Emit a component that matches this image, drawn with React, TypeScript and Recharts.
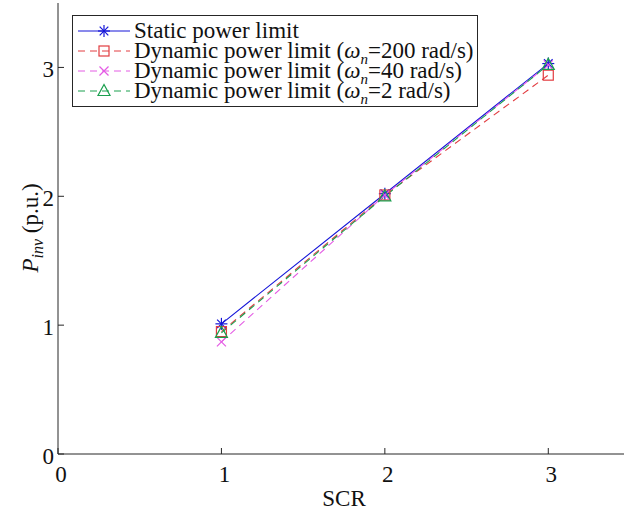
import React from 'react'
import { LineChart, Line, XAxis, YAxis, Legend, Label } from 'recharts'

const scr = [1, 2, 3]
const staticLimit = [1.01, 2.02, 3.03]
const dyn200 = [0.95, 2.01, 2.94]
const dyn40 = [0.87, 2.01, 3.02]
const dyn2 = [0.94, 2.0, 3.02]

const xTicks = [0, 1, 2, 3]
const yTicks = [0, 1, 2, 3]
const topTicks = [1, 2, 3]

const data = scr.map((s, i) => ({
  scr: s,
  staticLimit: staticLimit[i],
  dyn200: dyn200[i],
  dyn40: dyn40[i],
  dyn2: dyn2[i],
}))

const FONT = 'Liberation Serif, Times New Roman, Tinos, DejaVu Serif, serif'
const AXIS = '#262626'
const TEXT = '#111'
const FS = 23

type MarkerKind = 'star' | 'square' | 'x' | 'triangle'

const series: { key: string; name: string; omega?: string; color: string; dash?: string; marker: MarkerKind }[] = [
  { key: 'staticLimit', name: 'Static power limit', color: '#1515d8', marker: 'star' },
  { key: 'dyn200', name: 'Dynamic power limit', omega: '200', color: '#e23c40', dash: '7 5', marker: 'square' },
  { key: 'dyn40', name: 'Dynamic power limit', omega: '40', color: '#e45ce4', dash: '7 5', marker: 'x' },
  { key: 'dyn2', name: 'Dynamic power limit', omega: '2', color: '#1a9f4e', dash: '7 5', marker: 'triangle' },
]

function Marker({ kind, cx, cy, color }: { kind: MarkerKind; cx: number; cy: number; color: string }) {
  if (kind === 'star') {
    const r = 6
    const d = 4.3
    return (
      <g stroke={color} strokeWidth={1.2}>
        <line x1={cx - r} y1={cy} x2={cx + r} y2={cy} />
        <line x1={cx} y1={cy - r} x2={cx} y2={cy + r} />
        <line x1={cx - d} y1={cy - d} x2={cx + d} y2={cy + d} />
        <line x1={cx - d} y1={cy + d} x2={cx + d} y2={cy - d} />
      </g>
    )
  }
  if (kind === 'square') {
    return <rect x={cx - 5} y={cy - 5} width={10} height={10} fill="none" stroke={color} strokeWidth={1.2} />
  }
  if (kind === 'x') {
    const r = 4.5
    return (
      <g stroke={color} strokeWidth={1.2}>
        <line x1={cx - r} y1={cy - r} x2={cx + r} y2={cy + r} />
        <line x1={cx - r} y1={cy + r} x2={cx + r} y2={cy - r} />
      </g>
    )
  }
  return (
    <polygon
      points={`${cx},${cy - 6.5} ${cx - 6},${cy + 4.5} ${cx + 6},${cy + 4.5}`}
      fill="none"
      stroke={color}
      strokeWidth={1.2}
    />
  )
}

const makeDot = (kind: MarkerKind, color: string) => (p: any) => (
  <Marker key={`${kind}-${p.index}`} kind={kind} cx={p.cx} cy={p.cy} color={color} />
)

const XTick = (p: any) => (
  <g>
    <line x1={p.x} y1={p.y} x2={p.x} y2={p.y - 6} stroke={AXIS} />
    <text x={p.x + 3} y={p.y + 28} textAnchor="middle" style={{ fontFamily: FONT }} fontSize={FS} fill={TEXT}>
      {p.payload.value}
    </text>
  </g>
)

const TopTick = (p: any) => <line x1={p.x} y1={p.y} x2={p.x} y2={p.y + 6} stroke={AXIS} />

const YTick = (p: any) => (
  <g>
    <line x1={p.x} y1={p.y} x2={p.x + 6} y2={p.y} stroke={AXIS} />
    <text x={p.x - 4} y={p.y + 10} textAnchor="end" style={{ fontFamily: FONT }} fontSize={FS} fill={TEXT}>
      {p.payload.value}
    </text>
  </g>
)

const YLabel = () => (
  <text
    x={38}
    y={228}
    transform="rotate(-90, 38, 228)"
    textAnchor="middle"
    style={{ fontFamily: FONT }}
    fontSize={FS}
    fill={TEXT}
  >
    <tspan fontStyle="italic">P</tspan>
    <tspan fontStyle="italic" fontSize={16} dy={5}>inv</tspan>
    <tspan dy={-5}> (p.u.)</tspan>
  </text>
)

const renderLegend = () => (
  <div
    style={{
      display: 'inline-block',
      border: `1px solid ${AXIS}`,
      background: '#fff',
      padding: '5px 3px 5px 4px',
      fontFamily: FONT,
      fontSize: FS,
      color: TEXT,
      whiteSpace: 'nowrap',
    }}
  >
    {series.map((s) => (
      <div key={s.key} style={{ height: 20, lineHeight: '20px', display: 'flex', alignItems: 'center' }}>
        <svg width={56} height={20} style={{ display: 'block' }}>
          <line x1={1} y1={10} x2={53} y2={10} stroke={s.color} strokeWidth={1} strokeDasharray={s.dash} />
          <Marker kind={s.marker} cx={27} cy={10} color={s.color} />
        </svg>
        <span style={{ marginLeft: 1 }}>
          {s.name}
          {s.omega && (
            <>
              {' ('}
              <i>ω</i>
              <sub style={{ fontSize: 15, lineHeight: 0 }}>
                <i>n</i>
              </sub>
              {`=${s.omega} rad/s)`}
            </>
          )}
        </span>
      </div>
    ))}
  </div>
)

export default function App() {
  return (
    <div style={{ position: 'absolute', left: 0, top: 0, width: 624, height: 512, overflow: 'hidden', background: '#fff' }}>
      <LineChart width={640} height={512} data={data} margin={{ top: 3, right: 10, left: 0, bottom: 0 }}>
        <XAxis
          type="number"
          dataKey="scr"
          domain={[0, 3.5]}
          ticks={xTicks}
          tick={<XTick />}
          tickLine={false}
          tickSize={0}
          tickMargin={0}
          height={58}
          stroke={AXIS}
          interval={0}
        >
          <Label
            value="SCR"
            content={() => (
              <text x={344} y={506} textAnchor="middle" style={{ fontFamily: FONT }} fontSize={FS} fill={TEXT}>
                SCR
              </text>
            )}
          />
        </XAxis>
        <XAxis
          xAxisId="top"
          orientation="top"
          type="number"
          dataKey="scr"
          domain={[0, 3.5]}
          ticks={topTicks}
          tick={<TopTick />}
          tickLine={false}
          tickSize={0}
          tickMargin={0}
          height={0}
          stroke={AXIS}
          interval={0}
        />
        <YAxis
          type="number"
          domain={[0, 3.5]}
          ticks={yTicks}
          tick={<YTick />}
          tickLine={false}
          tickSize={0}
          tickMargin={0}
          width={58}
          stroke={AXIS}
          interval={0}
        >
          <Label content={() => <YLabel />} />
        </YAxis>
        {series.map((s) => (
          <Line
            key={s.key}
            type="linear"
            dataKey={s.key}
            stroke={s.color}
            strokeWidth={1.1}
            strokeDasharray={s.dash}
            dot={makeDot(s.marker, s.color)}
            activeDot={false}
            isAnimationActive={false}
          />
        ))}
        <Legend
          content={renderLegend}
          layout="horizontal"
          verticalAlign="middle"
          align="center"
          wrapperStyle={{ top: 15, left: 72, width: 'auto', height: 'auto' }}
        />
      </LineChart>
    </div>
  )
}
